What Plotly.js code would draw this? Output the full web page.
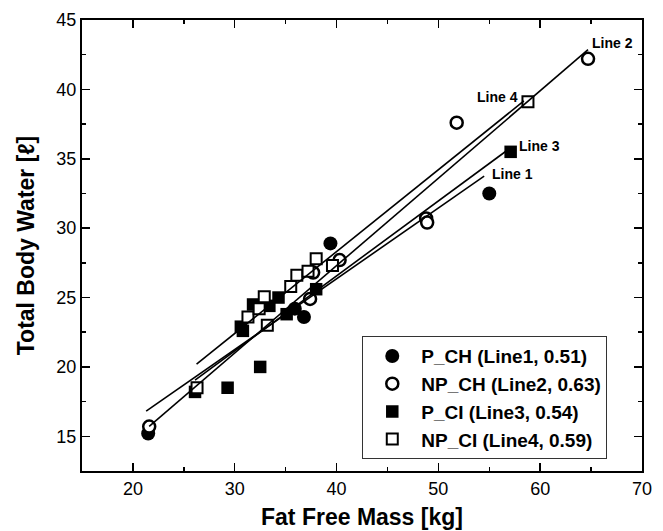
<!DOCTYPE html>
<html>
<head>
<meta charset="utf-8">
<script src="https://cdn.plot.ly/plotly-3.0.1.min.js"></script>
<style>html,body{margin:0;padding:0;background:#fff;}#chart{width:663px;height:531px;}</style>
</head>
<body>
<div id="chart"></div>
<script>
// ---- data ----
const pchX  = [21.5, 35.9, 36.8, 39.4, 55.0];
const pchY  = [15.2, 24.2, 23.6, 28.9, 32.5];

const npchX = [21.6, 37.4, 37.7, 40.3, 48.8, 48.9, 51.8, 64.7];
const npchY = [15.7, 24.9, 26.8, 27.7, 30.7, 30.4, 37.6, 42.2];

const pciX  = [26.1, 29.3, 30.6, 30.8, 31.8, 32.5, 33.4, 34.3, 35.1, 38.0, 57.1];
const pciY  = [18.2, 18.5, 22.9, 22.6, 24.5, 20.0, 24.4, 25.0, 23.8, 25.6, 35.5];

const npciX = [26.3, 31.3, 32.4, 32.9, 33.2, 35.5, 36.1, 37.2, 38.0, 39.6, 58.8];
const npciY = [18.5, 23.6, 24.2, 25.05, 23.0, 25.8, 26.6, 26.9, 27.8, 27.3, 39.1];

// regression lines: slope (from legend), intercept, x extent
const lineNames  = ['Line 1', 'Line 2', 'Line 3', 'Line 4'];
const lineSlope  = [0.51, 0.63, 0.54, 0.59];
const lineInter  = [5.95, 2.10, 4.96, 4.71];
const lineXStart = [21.3, 21.6, 26.1, 26.25];
const lineXEnd   = [54.5, 64.7, 56.8, 58.4];

// line label positions
const labelX = [57.3, 67.1, 59.9, 55.8];
const labelY = [33.9, 43.35, 35.9, 39.45];

const seriesNames = ['P_CH (Line1, 0.51)', 'NP_CH (Line2, 0.63)', 'P_CI (Line3, 0.54)', 'NP_CI (Line4, 0.59)'];

const FONT = 'Arial, "Liberation Sans", sans-serif';

const traces = [];
function pts(x, y, name, symbol, fill, size, lw) {
  traces.push({
    type: 'scatter', mode: 'markers', x: x, y: y, name: name,
    marker: {symbol: symbol, size: size, color: fill, line: {color: '#000', width: lw}},
    hoverinfo: 'x+y'
  });
}
pts(pchX, pchY, seriesNames[0], 'circle', '#000', 14, 0);
pts(npchX, npchY, seriesNames[1], 'circle', '#fff', 12, 2.5);
pts(pciX, pciY, seriesNames[2], 'square', '#000', 12.5, 0);
pts(npciX, npciY, seriesNames[3], 'square', '#fff', 11, 2);

for (let i = 0; i < lineNames.length; i++) {
  const xs = [lineXStart[i], lineXEnd[i]];
  const ys = xs.map(v => lineInter[i] + lineSlope[i] * v);
  traces.push({
    type: 'scatter', mode: 'lines', x: xs, y: ys, name: lineNames[i],
    showlegend: false, line: {color: '#000', width: 1.6}, hoverinfo: 'skip'
  });
}

const annotations = lineNames.map((t, i) => ({
  x: labelX[i], y: labelY[i], xref: 'x', yref: 'y', text: '<b>' + t + '</b>',
  showarrow: false, font: {family: FONT, size: 14, color: '#000'}
}));

const axisCommon = {
  showline: true, linecolor: '#000', linewidth: 2, mirror: 'ticks',
  ticks: 'inside', ticklen: 8, tickwidth: 1.5, tickcolor: '#000',
  showgrid: false, zeroline: false,
  tickfont: {family: FONT, size: 18, color: '#000'}
};

const layout = {
  width: 663, height: 531,
  margin: {l: 82, r: 21, t: 20, b: 60},
  paper_bgcolor: '#fff', plot_bgcolor: '#fff',
  font: {family: FONT, color: '#000'},
  showlegend: true,
  xaxis: Object.assign({}, axisCommon, {
    range: [15, 70], dtick: 10, tick0: 0,
    minor: {ticks: 'inside', ticklen: 4, tickwidth: 1.5, tickcolor: '#000', dtick: 5, tick0: 0},
    title: {text: '<b>Fat Free Mass [kg]</b>', font: {family: FONT, size: 23, color: '#000'}, standoff: 11}
  }),
  yaxis: Object.assign({}, axisCommon, {
    range: [12.5, 45], dtick: 5, tick0: 0,
    minor: {ticks: 'inside', ticklen: 4, tickwidth: 1.5, tickcolor: '#000', dtick: 2.5, tick0: 0},
    title: {text: '<b>Total Body Water [ℓ]</b>', font: {family: FONT, size: 23, color: '#000'}, standoff: 15}
  }),
  legend: {
    x: 0.5005, y: 0.299, xanchor: 'left', yanchor: 'top',
    bgcolor: '#fff', bordercolor: '#333', borderwidth: 1,
    font: {family: FONT, size: 19, color: '#000', weight: 'bold'},
    itemwidth: 48, tracegroupgap: 0
  },
  annotations: annotations
};

Plotly.newPlot('chart', traces, layout, {displayModeBar: false, staticPlot: true});
</script>
</body>
</html>
